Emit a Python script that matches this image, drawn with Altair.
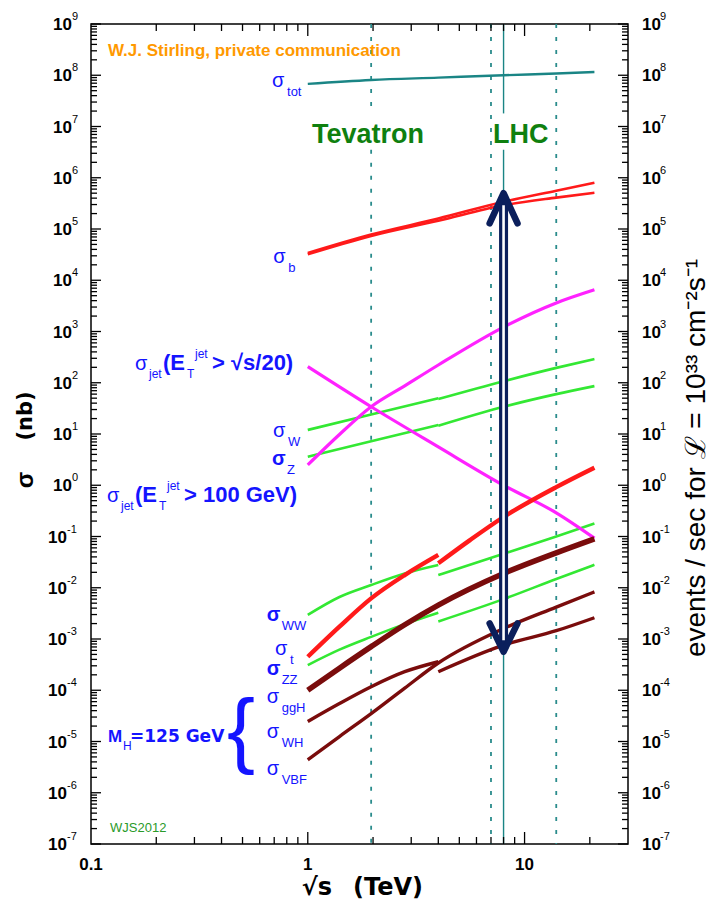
import altair as alt
import pandas as pd

# ---------------- data (x: sqrt(s) in TeV, y: sigma in nb) -------------
tot_x = [1, 1.96, 4, 8, 14, 21]
tot_y = [6.8e7, 8.1e7, 9.0e7, 1.0e8, 1.08e8, 1.16e8]

b_x = [1, 1.96, 4, 8, 14, 21]
b_hi_y = [3.4e4, 7.8e4, 1.6e5, 3.4e5, 5.6e5, 8.0e5]
b_lo_y = [3.2e4, 7.3e4, 1.45e5, 2.9e5, 4.1e5, 5.1e5]

jet20_x = [1, 1.96, 4, 8, 14, 21]
jet20_y = [206, 34, 5.6, 1.0, 0.29, 0.093]
jet100_x = [1, 1.4, 1.96, 2.8, 4, 8, 14, 21]
jet100_y = [2.5, 9.8, 34, 87, 222, 1220, 3600, 6500]

W_ppbar_x = [1, 1.96, 4]
W_ppbar_y = [12, 24, 50]
W_pp_x = [4, 8, 14, 21]
W_pp_y = [48, 107, 195, 290]

Z_ppbar_x = [1, 1.96, 4]
Z_ppbar_y = [3.6, 7.2, 15]
Z_pp_x = [4, 8, 14, 21]
Z_pp_y = [14.5, 34, 60, 86]

t_ppbar_x = [1, 1.4, 1.96, 2.8, 4]
t_ppbar_y = [4.5e-4, 1.74e-3, 6.2e-3, 0.0177, 0.0437]
t_pp_x = [4, 5.6, 8, 14, 21]
t_pp_y = [0.030, 0.085, 0.24, 0.92, 2.2]

WW_ppbar_x = [1, 1.4, 1.96, 2.8, 4]
WW_ppbar_y = [2.95e-3, 6.6e-3, 0.0113, 0.019, 0.0278]
WW_pp_x = [4, 8, 14, 21]
WW_pp_y = [0.0177, 0.046, 0.10, 0.18]

ZZ_ppbar_x = [1, 1.4, 1.96, 2.8, 4]
ZZ_ppbar_y = [3.1e-4, 6.2e-4, 1.1e-3, 1.95e-3, 3.25e-3]
ZZ_pp_x = [4, 8, 14, 21]
ZZ_pp_y = [2.2e-3, 6.0e-3, 0.0148, 0.028]

ggH_x = [1, 1.4, 1.96, 2.8, 4, 8, 14, 21]
ggH_y = [1.0e-4, 2.7e-4, 7.1e-4, 1.9e-3, 4.6e-3, 0.019, 0.048, 0.09]

WH_ppbar_x = [1, 1.4, 1.96, 2.8, 4]
WH_ppbar_y = [2.46e-5, 5.5e-5, 1.17e-4, 2.3e-4, 3.6e-4]
WH_pp_x = [4, 8, 14, 21]
WH_pp_y = [2.3e-4, 7.6e-4, 1.45e-3, 2.6e-3]

VBF_x = [1, 1.4, 1.96, 2.8, 4, 8, 14, 21]
VBF_y = [4.4e-6, 1.25e-5, 3.5e-5, 1.1e-4, 3.4e-4, 1.6e-3, 4.2e-3, 8.3e-3]

# collider energies (vertical lines)
tevatron_energy = [1.96]
lhc_dotted_energies = [7, 14]
lhc_run_energy = [8]
label_band = [3.5e6, 1.8e7]          # gap where "Tevatron"/"LHC" are written
y_top, y_bottom = 1e9, 1e-7
x_min, x_max = 0.1, 30

# double arrow at 8 TeV
arrow_x = 8
arrow_tip_top, arrow_tip_bottom = 5.0e5, 5.65e-4
arrow_arm_top, arrow_arm_bottom = 1.29e5, 2.02e-3
arrow_arm_x = [6.9, 9.28]
shaft_top, shaft_bottom = 3.7e5, 7.6e-4
gap_top, gap_bottom = 2.9e5, 9.5e-4

# curve labels (sigma + subscript), anchored at data coordinates
sig_sub = ["tot", "b", "W", "Z", "WW", "t", "ZZ", "ggH", "WH", "VBF"]
sig_x = [0.684, 0.693, 0.691, 0.684, 0.646, 0.706, 0.646, 0.646, 0.646, 0.646]
sig_y = [5.9e7, 2.17e4, 8.73, 2.48, 2.24e-3, 4.87e-4, 1.99e-4, 5.64e-5, 1.17e-5, 2.22e-6]
sig_bold = [False, False, False, True, True, False, True, False, False, False]

jet_x = [0.1596, 0.1185]
jet_y = [177, 0.471]
jet_tail = ["> \u221as/20)", "> 100 GeV)"]

mh_x, mh_y = 0.1198, 9.77e-6
brace_x, brace_y = 0.424, 4.77e-6

credit_x, credit_y = 0.1198, 2.38e8
tev_label_x, lhc_label_x, collider_label_y = 1.046, 7.15, 4.76e6
wjs_x, wjs_y = 0.1224, 1.71e-7

y_decades = [10.0 ** k for k in range(-7, 10)]
y_minor = [m * 10.0 ** k for k in range(-7, 9) for m in range(2, 10)]
x_major = [1, 10]
x_minor = [0.2, 0.3, 0.4, 0.5, 0.6, 0.7, 0.8, 0.9, 2, 3, 4, 5, 6, 7, 8, 9, 20]
x_labels = [0.1, 1, 10]
x_label_text = ["0.1", "1", "10"]

# ---------------- styles ----------------
W, H = 537, 820
RED, GREEN, MAG, BROWN, TEAL = "#ff1a1a", "#33e833", "#ff22ff", "#7a0c0c", "#1a8585"
NAVY, BLUE, DOTTEAL = "#0b1f5c", "#1414ff", "#2a8c8c"
FONT, WIDE = "Liberation Sans", "DejaVu Sans"

curves = [
    ("tot", tot_x, tot_y, TEAL, 2.4),
    ("W_ppbar", W_ppbar_x, W_ppbar_y, GREEN, 2.6),
    ("W_pp", W_pp_x, W_pp_y, GREEN, 2.6),
    ("Z_ppbar", Z_ppbar_x, Z_ppbar_y, GREEN, 2.6),
    ("Z_pp", Z_pp_x, Z_pp_y, GREEN, 2.6),
    ("WW_ppbar", WW_ppbar_x, WW_ppbar_y, GREEN, 2.6),
    ("WW_pp", WW_pp_x, WW_pp_y, GREEN, 2.6),
    ("ZZ_ppbar", ZZ_ppbar_x, ZZ_ppbar_y, GREEN, 2.6),
    ("ZZ_pp", ZZ_pp_x, ZZ_pp_y, GREEN, 2.6),
    ("jet20", jet20_x, jet20_y, MAG, 3.2),
    ("jet100", jet100_x, jet100_y, MAG, 3.2),
    ("ggH", ggH_x, ggH_y, BROWN, 5.5),
    ("WH_ppbar", WH_ppbar_x, WH_ppbar_y, BROWN, 3.4),
    ("WH_pp", WH_pp_x, WH_pp_y, BROWN, 3.4),
    ("VBF", VBF_x, VBF_y, BROWN, 3.4),
    ("b_hi", b_x, b_hi_y, RED, 2.6),
    ("b_lo", b_x, b_lo_y, RED, 2.6),
    ("t_ppbar", t_ppbar_x, t_ppbar_y, RED, 4.4),
    ("t_pp", t_pp_x, t_pp_y, RED, 4.4),
]
rows = []
for name, xs_, ys_, col, wd in curves:
    for xv, yv in zip(xs_, ys_):
        rows.append({"seg": name, "x": xv, "y": yv, "color": col, "w": wd})
curves_df = pd.DataFrame(rows)

xs = alt.Scale(type="log", domain=[x_min, x_max])
ys = alt.Scale(type="log", domain=[y_bottom, y_top])
X = alt.X("x:Q", scale=xs, axis=None)
Y = alt.Y("y:Q", scale=ys, axis=None)

# vertical collider lines
dotted_rows = [{"x": tevatron_energy[0], "y": y_top, "y2": label_band[1]},
               {"x": tevatron_energy[0], "y": label_band[0], "y2": y_bottom}]
for e in lhc_dotted_energies:
    dotted_rows.append({"x": e, "y": y_top, "y2": y_bottom})
dotted = alt.Chart(pd.DataFrame(dotted_rows)).mark_rule(
    color=DOTTEAL, strokeWidth=1.8, strokeDash=[4, 9]).encode(x=X, y=Y, y2="y2:Q")
solid = alt.Chart(pd.DataFrame([
    {"x": lhc_run_energy[0], "y": y_top, "y2": label_band[1]},
    {"x": lhc_run_energy[0], "y": label_band[0], "y2": y_bottom}])).mark_rule(
    color=TEAL, strokeWidth=1.4).encode(x=X, y=Y, y2="y2:Q")

lines = alt.Chart(curves_df).mark_line(interpolate="monotone").encode(
    x=X, y=Y, detail="seg:N",
    color=alt.Color("color:N", scale=None),
    strokeWidth=alt.StrokeWidth("w:Q", scale=None),
    order="x:Q")

# arrow
shaft = alt.Chart(pd.DataFrame([{"x": arrow_x, "y": shaft_top, "y2": shaft_bottom}])).mark_rule(
    color=NAVY, strokeWidth=9).encode(x=X, y=Y, y2="y2:Q")
shaft_gap = alt.Chart(pd.DataFrame([{"x": arrow_x, "y": gap_top, "y2": gap_bottom}])).mark_rule(
    color="white", strokeWidth=2.6).encode(x=X, y=Y, y2="y2:Q")
heads_df = pd.DataFrame([
    {"h": "top", "o": 0, "x": arrow_arm_x[0], "y": arrow_arm_top},
    {"h": "top", "o": 1, "x": arrow_x, "y": arrow_tip_top},
    {"h": "top", "o": 2, "x": arrow_arm_x[1], "y": arrow_arm_top},
    {"h": "bot", "o": 0, "x": arrow_arm_x[0], "y": arrow_arm_bottom},
    {"h": "bot", "o": 1, "x": arrow_x, "y": arrow_tip_bottom},
    {"h": "bot", "o": 2, "x": arrow_arm_x[1], "y": arrow_arm_bottom},
])
heads = alt.Chart(heads_df).mark_line(color=NAVY, strokeWidth=6.5, strokeCap="round",
                                      strokeJoin="round").encode(
    x=X, y=Y, detail="h:N", order="o:Q")

# ticks (inward)
dec_df = pd.DataFrame({"y": y_decades})
ymin_df = pd.DataFrame({"y": y_minor})
xmaj_df = pd.DataFrame({"x": x_major})
xmin_df = pd.DataFrame({"x": x_minor})
tick = dict(color="black", strokeWidth=1.3)
ticks = [
    alt.Chart(dec_df).mark_rule(**tick).encode(y=Y, x=alt.value(0), x2=alt.value(10)),
    alt.Chart(ymin_df).mark_rule(**tick).encode(y=Y, x=alt.value(0), x2=alt.value(6)),
    alt.Chart(dec_df).mark_rule(**tick).encode(y=Y, x=alt.value(W - 10), x2=alt.value(W)),
    alt.Chart(ymin_df).mark_rule(**tick).encode(y=Y, x=alt.value(W - 6), x2=alt.value(W)),
    alt.Chart(xmaj_df).mark_rule(**tick).encode(x=X, y=alt.value(0), y2=alt.value(12)),
    alt.Chart(xmin_df).mark_rule(**tick).encode(x=X, y=alt.value(0), y2=alt.value(7)),
    alt.Chart(xmaj_df).mark_rule(**tick).encode(x=X, y=alt.value(H - 12), y2=alt.value(H)),
    alt.Chart(xmin_df).mark_rule(**tick).encode(x=X, y=alt.value(H - 7), y2=alt.value(H)),
]

# tick labels
exp_df = pd.DataFrame({"y": y_decades, "e": [str(k) for k in range(-7, 10)],
                       "neg": [k < 0 for k in range(-7, 10)]})
pos_df = exp_df[~exp_df["neg"]]
neg_df = exp_df[exp_df["neg"]]
ten = dict(font=FONT, fontWeight="bold", fontSize=17, baseline="middle", dy=1)
sup = dict(font=FONT, fontSize=11, baseline="middle", dy=-7, align="left")
labels = []
for d, xl in ((pos_df, -19), (neg_df, -24)):
    labels.append(alt.Chart(d).mark_text(text="10", align="right", **ten).encode(y=Y, x=alt.value(xl)))
    labels.append(alt.Chart(d).mark_text(**sup).encode(y=Y, x=alt.value(xl), text="e:N"))
labels.append(alt.Chart(exp_df).mark_text(text="10", align="left", **ten).encode(y=Y, x=alt.value(W + 14)))
labels.append(alt.Chart(exp_df).mark_text(**sup).encode(y=Y, x=alt.value(W + 32), text="e:N"))
labels.append(alt.Chart(pd.DataFrame({"x": x_labels, "t": x_label_text})).mark_text(
    font=FONT, fontWeight="bold", fontSize=17, baseline="middle", align="center").encode(
    x=X, y=alt.value(H + 21), text="t:N"))


def one(text, x, y, **kw):
    return alt.Chart(pd.DataFrame({"t": [text]})).mark_text(**kw).encode(
        x=alt.value(x), y=alt.value(y), text="t:N")


titles = [
    one("\u03c3", -65, 456, font=FONT, fontWeight="bold", fontSize=24, angle=270,
        align="center", baseline="middle"),
    one("(nb)", -65, 392, font=WIDE, fontWeight="bold", fontSize=21, angle=270,
        align="center", baseline="middle"),
    one("\u221as", 226, H + 44, font=WIDE, fontWeight="bold", fontSize=24,
        align="center", baseline="middle"),
    one("(TeV)", 297, H + 44, font=WIDE, fontWeight="bold", fontSize=24,
        align="center", baseline="middle"),
    one("events / sec for \u2112 = 10\u00b3\u00b3 cm\u207b\u00b2s\u207b\u00b9", W + 69, 434,
        font=FONT, fontSize=28, angle=270, align="center", baseline="middle"),
]

# annotations in data coordinates
sig_df = pd.DataFrame({"x": sig_x, "y": sig_y, "sub": sig_sub, "bold": sig_bold})
ann = [
    alt.Chart(sig_df[~sig_df["bold"]]).mark_text(text="\u03c3", font=FONT, fontSize=20, color=BLUE,
                                                 align="left", baseline="alphabetic").encode(x=X, y=Y),
    alt.Chart(sig_df[sig_df["bold"]]).mark_text(text="\u03c3", font=FONT, fontSize=20, fontWeight="bold",
                                                color=BLUE, align="left", baseline="alphabetic").encode(x=X, y=Y),
    alt.Chart(sig_df).mark_text(font=FONT, fontSize=13, color=BLUE, align="left", baseline="alphabetic",
                                dx=15, dy=9).encode(x=X, y=Y, text="sub:N"),
]
jet_df = pd.DataFrame({"x": jet_x, "y": jet_y, "tail": jet_tail})
jt = dict(font=FONT, color=BLUE, align="left", baseline="alphabetic")
ann += [
    alt.Chart(jet_df).mark_text(text="\u03c3", fontSize=20, **jt).encode(x=X, y=Y),
    alt.Chart(jet_df).mark_text(text="jet", fontSize=12, dx=14, dy=8, **jt).encode(x=X, y=Y),
    alt.Chart(jet_df).mark_text(text="(E", fontSize=22, fontWeight="bold", dx=28, **jt).encode(x=X, y=Y),
    alt.Chart(jet_df).mark_text(text="T", fontSize=12, dx=52, dy=8, **jt).encode(x=X, y=Y),
    alt.Chart(jet_df).mark_text(text="jet", fontSize=12, dx=60, dy=-12, **jt).encode(x=X, y=Y),
    alt.Chart(jet_df).mark_text(fontSize=22, fontWeight="bold", dx=77, **jt).encode(x=X, y=Y, text="tail:N"),
]
mh_df = pd.DataFrame({"x": [mh_x], "y": [mh_y]})
ann += [
    alt.Chart(mh_df).mark_text(text="M", fontSize=17, fontWeight="bold", **jt).encode(x=X, y=Y),
    alt.Chart(mh_df).mark_text(text="H", fontSize=12, dx=15, dy=8, **jt).encode(x=X, y=Y),
    alt.Chart(mh_df).mark_text(text="=125 GeV", fontSize=17, fontWeight="bold", dx=22,
                               font=WIDE, color=BLUE, align="left", baseline="alphabetic").encode(x=X, y=Y),
    alt.Chart(pd.DataFrame({"x": [brace_x], "y": [brace_y]})).mark_text(
        text="{", fontSize=84, **jt).encode(x=X, y=Y),
    alt.Chart(pd.DataFrame({"x": [credit_x], "y": [credit_y]})).mark_text(
        text="W.J. Stirling, private communication", font=FONT, fontSize=17, fontWeight="bold",
        color="#ff9900", align="left", baseline="alphabetic").encode(x=X, y=Y),
    alt.Chart(pd.DataFrame({"x": [tev_label_x, lhc_label_x], "y": [collider_label_y] * 2,
                            "t": ["Tevatron", "LHC"]})).mark_text(
        font=FONT, fontSize=27, fontWeight="bold", color="#0f800f", align="left",
        baseline="alphabetic").encode(x=X, y=Y, text="t:N"),
    alt.Chart(pd.DataFrame({"x": [wjs_x], "y": [wjs_y]})).mark_text(
        text="WJS2012", font=FONT, fontSize=13, color="#2a9a2a", align="left",
        baseline="alphabetic").encode(x=X, y=Y),
]

chart = alt.layer(dotted, lines, solid, shaft, shaft_gap, heads, *ticks, *labels, *titles, *ann).properties(
    width=W, height=H, background="white",
    padding={"left": 83, "top": 16, "right": 84, "bottom": 60},
    autosize=alt.AutoSizeParams(type="none"),
).configure_view(stroke="black", strokeWidth=1.5)

chart.save("out.html", embed_options={"renderer": "svg", "actions": False})
